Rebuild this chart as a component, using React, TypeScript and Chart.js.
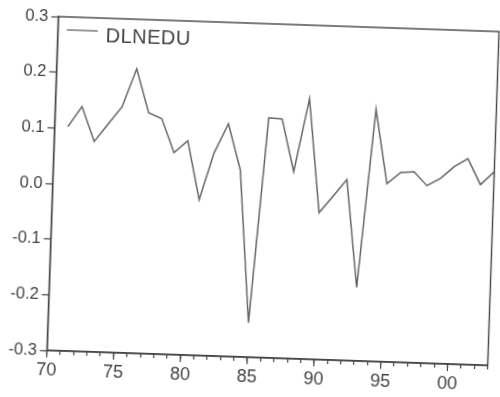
import React, { useEffect, useRef } from "react";
import { Chart, registerables } from "chart.js";

Chart.register(...registerables);

// Annual log-difference series, 1971–2003
const years = [
  1971, 1972, 1973, 1974, 1975, 1976, 1977, 1978, 1979, 1980,
  1981, 1982, 1983, 1984, 1985, 1986, 1987, 1988, 1989, 1990,
  1991, 1992, 1993, 1994, 1995, 1996, 1997, 1998, 1999, 2000,
  2001, 2002, 2003,
];
const dlnedu = [
  0.103, 0.140, 0.078, 0.110, 0.142, 0.211, 0.133, 0.123, 0.063, 0.085,
  -0.020, 0.065, 0.118, 0.036, -0.238, 0.131, 0.130, 0.036, 0.168, -0.036,
  -0.006, 0.025, -0.168, 0.153, 0.020, 0.041, 0.043, 0.019, 0.033, 0.055,
  0.070, 0.024, 0.048,
];
const seriesLabel = "DLNEDU";
const xMin = 1970;
const xMax = 2003;
const yMin = -0.3;
const yMax = 0.3;

const INK = "#444444";
const LINE = "#666666";
const FONT = "'Liberation Sans', Arial, sans-serif";

// Box frame, longer major ticks every 5 years, and an in-plot legend
const framePlugin = {
  id: "frameAndLegend",
  afterDraw(chart: any) {
    const { ctx, chartArea } = chart;
    const { left, top, right, bottom } = chartArea;
    const xs = chart.scales.x;
    ctx.save();
    ctx.strokeStyle = INK;
    ctx.lineWidth = 1.4;
    ctx.strokeRect(left, top, right - left, bottom - top);

    ctx.lineWidth = 1.2;
    for (let yr = xMin; yr <= xMax; yr += 5) {
      const px = xs.getPixelForValue(yr);
      ctx.beginPath();
      ctx.moveTo(px, bottom);
      ctx.lineTo(px, bottom + 7);
      ctx.stroke();
    }

    // legend
    ctx.strokeStyle = LINE;
    ctx.lineWidth = 1.3;
    ctx.beginPath();
    ctx.moveTo(left + 9, top + 13);
    ctx.lineTo(left + 40, top + 13);
    ctx.stroke();
    ctx.fillStyle = INK;
    ctx.font = `20px ${FONT}`;
    (ctx as any).letterSpacing = "0.5px";
    ctx.textBaseline = "alphabetic";
    ctx.textAlign = "left";
    ctx.fillText(chart.data.datasets[0].label, left + 48, top + 24);
    ctx.restore();
  },
};

export default function App() {
  const ref = useRef<HTMLCanvasElement | null>(null);

  useEffect(() => {
    if (!ref.current) return;
    const chart = new Chart(ref.current, {
      type: "line",
      data: {
        labels: years,
        datasets: [
          {
            label: seriesLabel,
            data: years.map((x, i) => ({ x, y: dlnedu[i] })),
            borderColor: LINE,
            borderWidth: 1.5,
            pointRadius: 0,
            tension: 0,
            fill: false,
          },
        ],
      },
      options: {
        responsive: false,
        animation: false,
        devicePixelRatio: 1,
        layout: { padding: { top: 24, right: 6.5, left: 0, bottom: 0 } },
        plugins: {
          legend: { display: false },
          tooltip: { enabled: false },
        },
        scales: {
          x: {
            type: "linear",
            min: xMin,
            max: xMax,
            grid: {
              display: true,
              drawOnChartArea: false,
              drawTicks: true,
              tickLength: 4,
              tickColor: INK,
              tickWidth: 1.2,
            },
            border: { display: true, color: INK, width: 1.4 },
            ticks: {
              stepSize: 1,
              autoSkip: false,
              maxRotation: 0,
              minRotation: 0,
              padding: 5,
              color: INK,
              font: { family: FONT, size: 18 },
              callback: (v: any) => {
                const n = Math.round(Number(v));
                return n % 5 === 0 ? String(n % 100).padStart(2, "0") : "";
              },
            },
            afterFit: (s: any) => {
              s.height = 39;
            },
          },
          y: {
            type: "linear",
            min: yMin,
            max: yMax,
            grid: {
              display: true,
              drawOnChartArea: false,
              drawTicks: true,
              tickLength: 7,
              tickColor: INK,
              tickWidth: 1.2,
            },
            border: { display: true, color: INK, width: 1.4 },
            ticks: {
              stepSize: 0.1,
              padding: 3,
              color: INK,
              font: { family: FONT, size: 16.5 },
              callback: (v: any) => Number(v).toFixed(1),
            },
            afterFit: (s: any) => {
              s.width = 52.5;
            },
          },
        },
      },
      plugins: [framePlugin],
    });
    return () => chart.destroy();
  }, []);

  return (
    <div
      style={{
        position: "absolute",
        left: 0,
        top: 0,
        width: 500,
        height: 397,
        background: "#fff",
        overflow: "hidden",
      }}
    >
      <canvas
        ref={ref}
        width={500}
        height={397}
        style={{
          display: "block",
          transform: "rotate(1.95deg)",
          transformOrigin: "273px 191px",
        }}
      />
    </div>
  );
}
